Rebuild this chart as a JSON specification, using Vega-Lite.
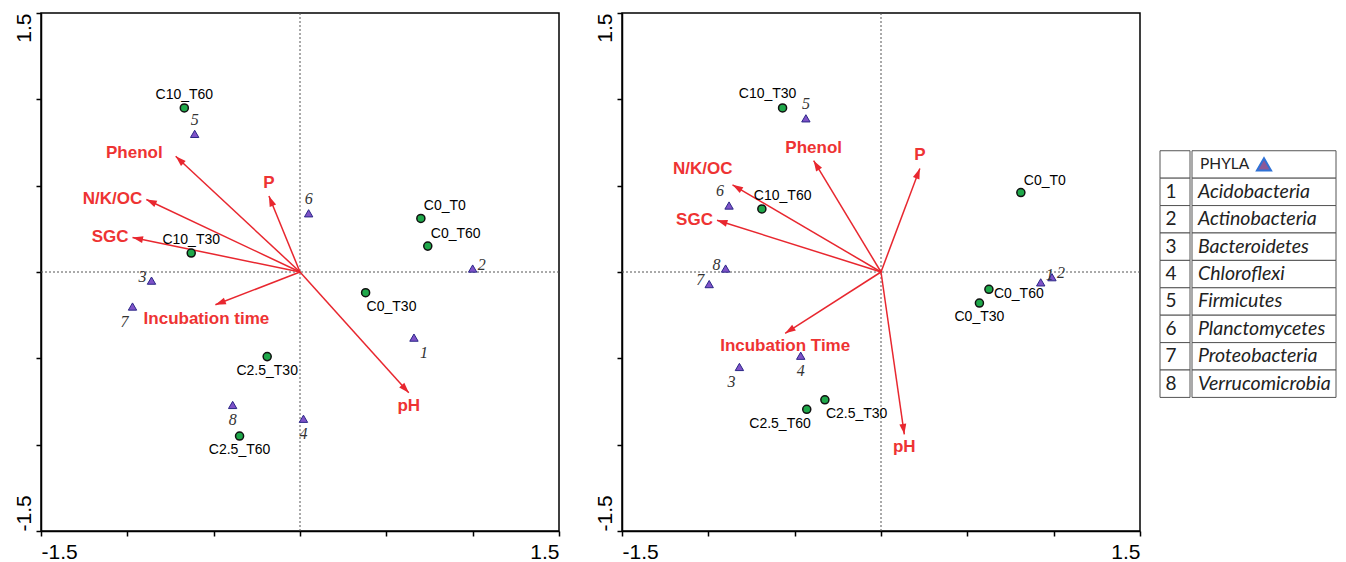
{
  "$schema": "https://vega.github.io/schema/vega-lite/v6.json",
  "padding": {"left": 12, "top": 11, "right": 0, "bottom": 0},
  "background": "white",
  "config": {"view": {"stroke": "black", "strokeWidth": 1.5}, "font": "Liberation Sans"},
  "datasets": {
    "biplot": [
      {"panel": "a", "kind": "sample", "name": "C10_T60", "x": -0.67, "y": 0.95, "pos": "N"},
      {"panel": "a", "kind": "sample", "name": "C0_T0", "x": 0.70, "y": 0.31, "pos": "NE"},
      {"panel": "a", "kind": "sample", "name": "C0_T60", "x": 0.74, "y": 0.15, "pos": "NE"},
      {"panel": "a", "kind": "sample", "name": "C10_T30", "x": -0.63, "y": 0.11, "pos": "N"},
      {"panel": "a", "kind": "sample", "name": "C0_T30", "x": 0.38, "y": -0.12, "pos": "SE"},
      {"panel": "a", "kind": "sample", "name": "C2.5_T30", "x": -0.19, "y": -0.49, "pos": "S"},
      {"panel": "a", "kind": "sample", "name": "C2.5_T60", "x": -0.35, "y": -0.95, "pos": "S"},
      {"panel": "a", "kind": "phylum", "name": "1", "x": 0.66, "y": -0.38, "pos": "SE"},
      {"panel": "a", "kind": "phylum", "name": "2", "x": 1.00, "y": 0.02, "pos": "E"},
      {"panel": "a", "kind": "phylum", "name": "3", "x": -0.86, "y": -0.05, "pos": "W"},
      {"panel": "a", "kind": "phylum", "name": "4", "x": 0.02, "y": -0.85, "pos": "S"},
      {"panel": "a", "kind": "phylum", "name": "5", "x": -0.61, "y": 0.80, "pos": "N"},
      {"panel": "a", "kind": "phylum", "name": "6", "x": 0.05, "y": 0.34, "pos": "N"},
      {"panel": "a", "kind": "phylum", "name": "7", "x": -0.97, "y": -0.20, "pos": "SW"},
      {"panel": "a", "kind": "phylum", "name": "8", "x": -0.39, "y": -0.77, "pos": "S"},
      {"panel": "a", "kind": "vector", "name": "Phenol", "x": -0.72, "y": 0.67, "pos": "WW"},
      {"panel": "a", "kind": "vector", "name": "P", "x": -0.18, "y": 0.44, "pos": "N"},
      {"panel": "a", "kind": "vector", "name": "N/K/OC", "x": -0.89, "y": 0.42, "pos": "W"},
      {"panel": "a", "kind": "vector", "name": "SGC", "x": -0.97, "y": 0.20, "pos": "W"},
      {"panel": "a", "kind": "vector", "name": "Incubation time", "x": -0.49, "y": -0.19, "pos": "Sw"},
      {"panel": "a", "kind": "vector", "name": "pH", "x": 0.63, "y": -0.70, "pos": "S"},
      {"panel": "b", "kind": "sample", "name": "C10_T30", "x": -0.57, "y": 0.95, "pos": "Nw"},
      {"panel": "b", "kind": "sample", "name": "C0_T0", "x": 0.81, "y": 0.46, "pos": "NE"},
      {"panel": "b", "kind": "sample", "name": "C10_T60", "x": -0.69, "y": 0.365, "pos": "Ne"},
      {"panel": "b", "kind": "sample", "name": "C0_T60", "x": 0.625, "y": -0.10, "pos": "E"},
      {"panel": "b", "kind": "sample", "name": "C0_T30", "x": 0.57, "y": -0.18, "pos": "S"},
      {"panel": "b", "kind": "sample", "name": "C2.5_T30", "x": -0.325, "y": -0.74, "pos": "SE"},
      {"panel": "b", "kind": "sample", "name": "C2.5_T60", "x": -0.43, "y": -0.795, "pos": "SW"},
      {"panel": "b", "kind": "phylum", "name": "1", "x": 0.925, "y": -0.06, "pos": "NE"},
      {"panel": "b", "kind": "phylum", "name": "2", "x": 0.99, "y": -0.03, "pos": "E"},
      {"panel": "b", "kind": "phylum", "name": "3", "x": -0.82, "y": -0.55, "pos": "SW"},
      {"panel": "b", "kind": "phylum", "name": "4", "x": -0.465, "y": -0.485, "pos": "S"},
      {"panel": "b", "kind": "phylum", "name": "5", "x": -0.435, "y": 0.89, "pos": "N"},
      {"panel": "b", "kind": "phylum", "name": "6", "x": -0.88, "y": 0.385, "pos": "NW"},
      {"panel": "b", "kind": "phylum", "name": "7", "x": -0.995, "y": -0.07, "pos": "W"},
      {"panel": "b", "kind": "phylum", "name": "8", "x": -0.90, "y": 0.02, "pos": "W"},
      {"panel": "b", "kind": "vector", "name": "Phenol", "x": -0.39, "y": 0.645, "pos": "N"},
      {"panel": "b", "kind": "vector", "name": "P", "x": 0.225, "y": 0.60, "pos": "N"},
      {"panel": "b", "kind": "vector", "name": "N/K/OC", "x": -0.86, "y": 0.505, "pos": "NW"},
      {"panel": "b", "kind": "vector", "name": "SGC", "x": -0.95, "y": 0.30, "pos": "W"},
      {"panel": "b", "kind": "vector", "name": "Incubation Time", "x": -0.555, "y": -0.355, "pos": "S"},
      {"panel": "b", "kind": "vector", "name": "pH", "x": 0.135, "y": -0.94, "pos": "S"}
    ],
    "phyla": [
      {"row": 0, "num": "", "name": "PHYLA"},
      {"row": 1, "num": "1", "name": "Acidobacteria"},
      {"row": 2, "num": "2", "name": "Actinobacteria"},
      {"row": 3, "num": "3", "name": "Bacteroidetes"},
      {"row": 4, "num": "4", "name": "Chloroflexi"},
      {"row": 5, "num": "5", "name": "Firmicutes"},
      {"row": 6, "num": "6", "name": "Planctomycetes"},
      {"row": 7, "num": "7", "name": "Proteobacteria"},
      {"row": 8, "num": "8", "name": "Verrucomicrobia"}
    ]
  },
  "spacing": 17,
  "hconcat": [
    {
      "data": {"name": "biplot"},
      "facet": {"column": {"field": "panel", "type": "nominal", "title": null, "header": {"labels": false, "title": null}}},
      "spacing": {"column": 32},
      "resolve": {"axis": {"x": "independent", "y": "independent"}},
      "spec": {
        "width": 518,
        "height": 518,
        "encoding": {
          "x": {"field": "x", "type": "quantitative",
            "scale": {"domain": [-1.5, 1.5], "nice": false, "zero": false},
            "axis": {"values": [-1.5, -1, -0.5, 0, 0.5, 1, 1.5],
              "labelExpr": "datum.value == 1.5 ? '1.5' : (datum.value == -1.5 ? '-1.5' : '')",
              "labelFlush": true, "labelOverlap": false, "grid": false, "title": null,
              "domainColor": "black", "domainWidth": 1.5, "tickColor": "black", "tickWidth": 1.5, "tickSize": 5,
              "labelFont": "Liberation Sans", "labelFontSize": 21, "labelColor": "black", "labelPadding": 5}},
          "y": {"field": "y", "type": "quantitative",
            "scale": {"domain": [-1.5, 1.5], "nice": false, "zero": false},
            "axis": {"values": [-1.5, -1, -0.5, 0, 0.5, 1, 1.5],
              "labelExpr": "datum.value == 1.5 ? '1.5' : (datum.value == -1.5 ? '-1.5' : '')",
              "labelFlush": false, "labelOverlap": false, "grid": false, "title": null,
              "labelAngle": -90,
              "labelAlign": {"condition": {"test": "datum.value > 0", "value": "right"}, "value": "left"},
              "labelBaseline": "alphabetic",
              "domainColor": "black", "domainWidth": 1.5, "tickColor": "black", "tickWidth": 1.5, "tickSize": 5,
              "labelFont": "Liberation Sans", "labelFontSize": 21, "labelColor": "black", "labelPadding": 6}}
        },
        "layer": [
          {"transform": [{"filter": "datum.kind == 'vector' && datum.name == 'P'"}],
           "mark": {"type": "rule", "color": "#555555", "strokeDash": [2, 2], "strokeWidth": 1},
           "encoding": {"x": {"datum": 0}, "y": {"datum": -1.5}, "y2": {"datum": 1.5}}},
          {"transform": [{"filter": "datum.kind == 'vector' && datum.name == 'P'"}],
           "mark": {"type": "rule", "color": "#555555", "strokeDash": [2, 2], "strokeWidth": 1},
           "encoding": {"y": {"datum": 0}, "x": {"datum": -1.5}, "x2": {"datum": 1.5}}},
          {"transform": [{"filter": "datum.kind == 'vector'"}],
           "mark": {"type": "rule", "color": "#e8272f", "strokeWidth": 1.5},
           "encoding": {"x2": {"datum": 0}, "y2": {"datum": 0}}},
          {"transform": [{"filter": "datum.kind == 'vector'"}, {"calculate": "atan2(datum.x, datum.y) * 180 / PI", "as": "ang"}],
           "mark": {"type": "point", "shape": "M0,0L-0.33,1L0.33,1Z", "filled": true, "fill": "#e8272f", "strokeWidth": 0, "size": 440, "opacity": 1},
           "encoding": {"angle": {"field": "ang", "type": "quantitative", "scale": null}}},
          {"transform": [{"filter": "datum.kind == 'sample'"}],
           "mark": {"type": "point", "shape": "circle", "filled": true, "fill": "#1fa84a", "stroke": "#111111", "strokeWidth": 1.5, "size": 65, "opacity": 1}},
          {"transform": [{"filter": "datum.kind == 'phylum'"}],
           "mark": {"type": "point", "shape": "triangle-up", "filled": true, "fill": "#7e52c8", "stroke": "#2b2787", "strokeWidth": 1, "size": 70, "opacity": 1}},

          {"transform": [{"filter": "datum.kind == 'sample' && datum.pos == 'N'"}],
           "mark": {"type": "text", "font": "Liberation Sans", "fontSize": 14, "color": "black", "align": "center", "baseline": "bottom", "dy": -6},
           "encoding": {"text": {"field": "name"}}},
          {"transform": [{"filter": "datum.kind == 'sample' && datum.pos == 'S'"}],
           "mark": {"type": "text", "font": "Liberation Sans", "fontSize": 14, "color": "black", "align": "center", "baseline": "top", "dy": 7},
           "encoding": {"text": {"field": "name"}}},
          {"transform": [{"filter": "datum.kind == 'sample' && datum.pos == 'NE'"}],
           "mark": {"type": "text", "font": "Liberation Sans", "fontSize": 14, "color": "black", "align": "left", "baseline": "bottom", "dx": 3, "dy": -5},
           "encoding": {"text": {"field": "name"}}},
          {"transform": [{"filter": "datum.kind == 'sample' && datum.pos == 'Ne'"}],
           "mark": {"type": "text", "font": "Liberation Sans", "fontSize": 14, "color": "black", "align": "left", "baseline": "bottom", "dx": -8, "dy": -6},
           "encoding": {"text": {"field": "name"}}},
          {"transform": [{"filter": "datum.kind == 'sample' && datum.pos == 'Nw'"}],
           "mark": {"type": "text", "font": "Liberation Sans", "fontSize": 14, "color": "black", "align": "center", "baseline": "bottom", "dx": -15, "dy": -7},
           "encoding": {"text": {"field": "name"}}},
          {"transform": [{"filter": "datum.kind == 'sample' && datum.pos == 'SE'"}],
           "mark": {"type": "text", "font": "Liberation Sans", "fontSize": 14, "color": "black", "align": "left", "baseline": "top", "dx": 1, "dy": 7},
           "encoding": {"text": {"field": "name"}}},
          {"transform": [{"filter": "datum.kind == 'sample' && datum.pos == 'SW'"}],
           "mark": {"type": "text", "font": "Liberation Sans", "fontSize": 14, "color": "black", "align": "right", "baseline": "top", "dx": 4, "dy": 8},
           "encoding": {"text": {"field": "name"}}},
          {"transform": [{"filter": "datum.kind == 'sample' && datum.pos == 'E'"}],
           "mark": {"type": "text", "font": "Liberation Sans", "fontSize": 14, "color": "black", "align": "left", "baseline": "middle", "dx": 5, "dy": 5},
           "encoding": {"text": {"field": "name"}}},

          {"transform": [{"filter": "datum.kind == 'phylum' && datum.pos == 'N'"}],
           "mark": {"type": "text", "font": "Liberation Serif", "fontStyle": "italic", "fontSize": 16, "color": "#333333", "align": "center", "baseline": "middle", "dy": -14},
           "encoding": {"text": {"field": "name"}}},
          {"transform": [{"filter": "datum.kind == 'phylum' && datum.pos == 'S'"}],
           "mark": {"type": "text", "font": "Liberation Serif", "fontStyle": "italic", "fontSize": 16, "color": "#333333", "align": "center", "baseline": "middle", "dy": 15},
           "encoding": {"text": {"field": "name"}}},
          {"transform": [{"filter": "datum.kind == 'phylum' && datum.pos == 'E'"}],
           "mark": {"type": "text", "font": "Liberation Serif", "fontStyle": "italic", "fontSize": 16, "color": "#333333", "align": "center", "baseline": "middle", "dx": 9, "dy": -4},
           "encoding": {"text": {"field": "name"}}},
          {"transform": [{"filter": "datum.kind == 'phylum' && datum.pos == 'W'"}],
           "mark": {"type": "text", "font": "Liberation Serif", "fontStyle": "italic", "fontSize": 16, "color": "#333333", "align": "center", "baseline": "middle", "dx": -9, "dy": -4},
           "encoding": {"text": {"field": "name"}}},
          {"transform": [{"filter": "datum.kind == 'phylum' && datum.pos == 'SE'"}],
           "mark": {"type": "text", "font": "Liberation Serif", "fontStyle": "italic", "fontSize": 16, "color": "#333333", "align": "center", "baseline": "middle", "dx": 10, "dy": 15},
           "encoding": {"text": {"field": "name"}}},
          {"transform": [{"filter": "datum.kind == 'phylum' && datum.pos == 'SW'"}],
           "mark": {"type": "text", "font": "Liberation Serif", "fontStyle": "italic", "fontSize": 16, "color": "#333333", "align": "center", "baseline": "middle", "dx": -8, "dy": 15},
           "encoding": {"text": {"field": "name"}}},
          {"transform": [{"filter": "datum.kind == 'phylum' && datum.pos == 'NE'"}],
           "mark": {"type": "text", "font": "Liberation Serif", "fontStyle": "italic", "fontSize": 16, "color": "#333333", "align": "center", "baseline": "middle", "dx": 9, "dy": -7},
           "encoding": {"text": {"field": "name"}}},
          {"transform": [{"filter": "datum.kind == 'phylum' && datum.pos == 'NW'"}],
           "mark": {"type": "text", "font": "Liberation Serif", "fontStyle": "italic", "fontSize": 16, "color": "#333333", "align": "center", "baseline": "middle", "dx": -9, "dy": -15},
           "encoding": {"text": {"field": "name"}}},

          {"transform": [{"filter": "datum.kind == 'vector' && datum.pos == 'N'"}],
           "mark": {"type": "text", "font": "Liberation Sans", "fontWeight": "bold", "fontSize": 17, "color": "#ee3333", "align": "center", "baseline": "bottom", "dy": -4},
           "encoding": {"text": {"field": "name"}}},
          {"transform": [{"filter": "datum.kind == 'vector' && datum.pos == 'S'"}],
           "mark": {"type": "text", "font": "Liberation Sans", "fontWeight": "bold", "fontSize": 17, "color": "#ee3333", "align": "center", "baseline": "top", "dy": 5},
           "encoding": {"text": {"field": "name"}}},
          {"transform": [{"filter": "datum.kind == 'vector' && datum.pos == 'Sw'"}],
           "mark": {"type": "text", "font": "Liberation Sans", "fontWeight": "bold", "fontSize": 17, "color": "#ee3333", "align": "center", "baseline": "top", "dx": -9, "dy": 6},
           "encoding": {"text": {"field": "name"}}},
          {"transform": [{"filter": "datum.kind == 'vector' && datum.pos == 'W'"}],
           "mark": {"type": "text", "font": "Liberation Sans", "fontWeight": "bold", "fontSize": 17, "color": "#ee3333", "align": "right", "baseline": "middle", "dx": -4},
           "encoding": {"text": {"field": "name"}}},
          {"transform": [{"filter": "datum.kind == 'vector' && datum.pos == 'WW'"}],
           "mark": {"type": "text", "font": "Liberation Sans", "fontWeight": "bold", "fontSize": 17, "color": "#ee3333", "align": "right", "baseline": "middle", "dx": -13, "dy": -3},
           "encoding": {"text": {"field": "name"}}},
          {"transform": [{"filter": "datum.kind == 'vector' && datum.pos == 'NW'"}],
           "mark": {"type": "text", "font": "Liberation Sans", "fontWeight": "bold", "fontSize": 17, "color": "#ee3333", "align": "right", "baseline": "bottom", "dx": 0, "dy": -7},
           "encoding": {"text": {"field": "name"}}}
        ]
      }
    },
    {
      "spacing": 0,
      "hconcat": [
        {
          "data": {"name": "phyla"},
          "width": 30,
          "height": 518,
          "view": {"stroke": null},
          "encoding": {"y": {"field": "row", "type": "ordinal", "scale": {"domain": [-4, -3, -2, -1, 0, 1, 2, 3, 4, 5, 6, 7, 8, 9, 10, 11, 12], "paddingInner": 0, "paddingOuter": 0.95, "align": 0.54}, "axis": null}},
          "layer": [
            {"mark": {"type": "bar", "fill": "white", "stroke": "#555555", "strokeWidth": 1}},
            {"mark": {"type": "text", "font": "Lato", "fontSize": 19, "color": "#222222", "align": "center", "baseline": "middle", "dx": -4},
             "encoding": {"text": {"field": "num"}}}
          ]
        },
        {
          "data": {"name": "phyla"},
          "width": 144,
          "height": 518,
          "view": {"stroke": null},
          "encoding": {"y": {"field": "row", "type": "ordinal", "scale": {"domain": [-4, -3, -2, -1, 0, 1, 2, 3, 4, 5, 6, 7, 8, 9, 10, 11, 12], "paddingInner": 0, "paddingOuter": 0.95, "align": 0.54}, "axis": null}},
          "layer": [
            {"mark": {"type": "bar", "fill": "white", "stroke": "#555555", "strokeWidth": 1}},
            {"transform": [{"filter": "datum.row > 0"}],
             "mark": {"type": "text", "font": "Lato", "fontStyle": "italic", "fontSize": 19.5, "color": "#222222", "align": "left", "baseline": "middle", "dx": -66},
             "encoding": {"text": {"field": "name"}}},
            {"transform": [{"filter": "datum.row == 0"}],
             "mark": {"type": "text", "font": "Lato", "fontSize": 15.5, "color": "#222222", "align": "left", "baseline": "middle", "dx": -64},
             "encoding": {"text": {"field": "name"}}},
            {"transform": [{"filter": "datum.row == 0"}],
             "mark": {"type": "point", "shape": "triangle-up", "filled": true, "fill": "#8c5a98", "stroke": "#2f72d6", "strokeWidth": 2, "size": 200, "opacity": 1}}
          ]
        }
      ]
    }
  ]
}
